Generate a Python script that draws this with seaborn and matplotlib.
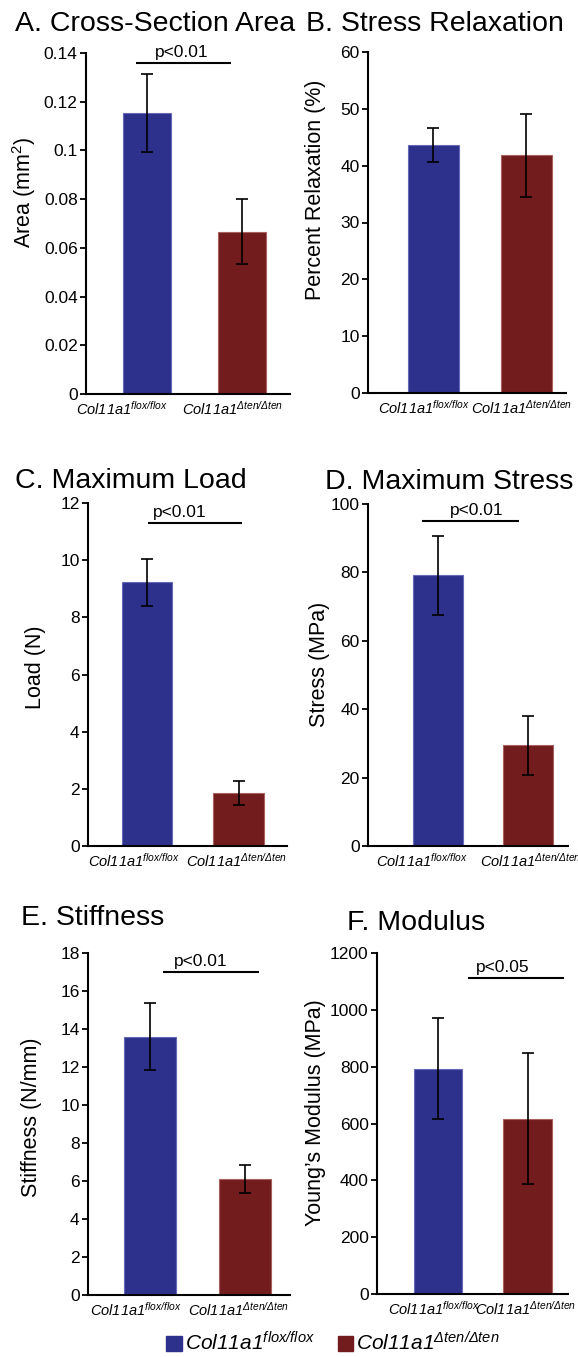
import numpy as np
import pandas as pd
import matplotlib
matplotlib.use("Agg")
import matplotlib.pyplot as plt
import matplotlib.transforms as mtransforms
from matplotlib.patches import Patch
import seaborn as sns

# ---------------- data ----------------
genotypes = ["flox/flox", "Δten/Δten"]
tick_labels = [r"$\mathit{Col11a1}^{\mathit{flox/flox}}$",
               r"$\mathit{Col11a1}^{\mathit{Δten/Δten}}$"]

area_mean = [0.1153, 0.0667]
area_sem = [0.0161, 0.0133]
relax_mean = [43.7, 41.8]
relax_sem = [3.0, 7.35]
load_mean = [9.22, 1.85]
load_sem = [0.82, 0.41]
stress_mean = [79.1, 29.4]
stress_sem = [11.6, 8.5]
stiff_mean = [13.6, 6.12]
stiff_sem = [1.77, 0.73]
modulus_mean = [793, 617]
modulus_sem = [178, 231]

panel_titles = ["A. Cross-Section Area", "B. Stress Relaxation", "C. Maximum Load",
                "D. Maximum Stress", "E. Stiffness", "F. Modulus"]
y_labels = [r"Area (mm$^{\mathsf{2}}$)", "Percent Relaxation (%)", "Load (N)",
            "Stress (MPa)", "Stiffness (N/mm)", "Young’s Modulus (MPa)"]
y_ticks = [[0, 0.02, 0.04, 0.06, 0.08, 0.1, 0.12, 0.14],
           [0, 10, 20, 30, 40, 50, 60],
           [0, 2, 4, 6, 8, 10, 12],
           [0, 20, 40, 60, 80, 100],
           [0, 2, 4, 6, 8, 10, 12, 14, 16, 18],
           [0, 200, 400, 600, 800, 1000, 1200]]
y_ticklabels = [["0", "0.02", "0.04", "0.06", "0.08", "0.1", "0.12", "0.14"],
                ["0", "10", "20", "30", "40", "50", "60"],
                ["0", "2", "4", "6", "8", "10", "12"],
                ["0", "20", "40", "60", "80", "100"],
                ["0", "2", "4", "6", "8", "10", "12", "14", "16", "18"],
                ["0", "200", "400", "600", "800", "1000", "1200"]]
sig_text = ["p<0.01", None, "p<0.01", "p<0.01", "p<0.01", "p<0.05"]
sig_span = [(-0.12, 0.88), None, (0.01, 1.04), (-0.18, 0.90), (0.14, 1.14), (0.33, 1.41)]
sig_level = [0.1357, None, 11.3, 94.9, 17.0, 1112]
sig_text_x = [0.37, None, 0.36, 0.43, 0.53, 0.72]

means = [area_mean, relax_mean, load_mean, stress_mean, stiff_mean, modulus_mean]
sems = [area_sem, relax_sem, load_sem, stress_sem, stiff_sem, modulus_sem]

# ---------------- style ----------------
W, H = 578, 1357
blue = "#2e318c"
red = "#721c1d"
blue_edge = "#6669b8"
red_edge = "#a86060"

sns.set_theme(style="ticks")
plt.rcParams["font.family"] = ["Liberation Sans", "DejaVu Sans"]
plt.rcParams["mathtext.fontset"] = "custom"
plt.rcParams["mathtext.it"] = "Liberation Sans:italic"
plt.rcParams["mathtext.rm"] = "Liberation Sans:italic"
plt.rcParams["mathtext.sf"] = "Liberation Sans"
plt.rcParams["mathtext.bf"] = "Liberation Sans:bold"
plt.rcParams["axes.unicode_minus"] = False
for key in ["text.color", "axes.labelcolor", "xtick.color", "ytick.color", "axes.edgecolor"]:
    plt.rcParams[key] = "black"

# axes boxes in pixels: left, right, top, bottom
boxes = [(86, 290, 53, 394), (368, 566, 52, 393),
         (88, 287, 503, 846), (368, 568, 504, 846),
         (88, 290, 953, 1295), (377, 568, 953, 1294)]
xlims = [(-0.642, 1.505), (-0.704, 1.425), (-0.645, 1.53),
         (-0.78, 1.44), (-0.65, 1.47), (-0.68, 1.45)]
bar_w = [0.505, 0.55, 0.55, 0.555, 0.547, 0.54]
label_dx = [(-25, -9), (-10, -5), (-13, -2), (-16, 2), (-14, -7), (-4, -2)]
ylab_center_x = [24, 315, 36, 319, 32, 315]
ylab_y = [0.592, 0.595, 0.522, 0.532, 0.52, 0.531]
title_pos = [(15, 31), (306, 31), (15, 488), (325, 489), (21, 925), (347, 930)]

fig = plt.figure(figsize=(W / 100, H / 100), dpi=100)

for i in range(6):
    L, R, T, B = boxes[i]
    ax = fig.add_axes([L / W, 1 - B / H, (R - L) / W, (B - T) / H])
    df = pd.DataFrame({"genotype": genotypes, "value": means[i]})
    sns.barplot(data=df, x="genotype", y="value", hue="genotype",
                palette=[blue, red], saturation=1, width=bar_w[i],
                errorbar=None, legend=False, ax=ax)
    for p, ec in zip(ax.patches, [blue_edge, red_edge]):
        p.set_edgecolor(ec)
        p.set_linewidth(0.8)
    ax.errorbar(np.arange(len(means[i])), means[i], yerr=sems[i], fmt="none",
                ecolor="black", elinewidth=1.2, capsize=4, capthick=1.2, zorder=5)

    ax.set_xlim(*xlims[i])
    ax.set_ylim(0, y_ticks[i][-1])
    ax.set_yticks(y_ticks[i])
    ax.set_yticklabels(y_ticklabels[i], fontsize=12.5)
    ax.set_xticks([0, 1])
    ax.set_xticklabels(tick_labels, fontsize=10.5)
    ax.set_xlabel("")
    ax.set_ylabel(y_labels[i], fontsize=15.5, va="center")
    ax.yaxis.set_label_coords((ylab_center_x[i] - L) / (R - L), ylab_y[i])
    ax.tick_params(axis="x", length=0, pad=4)
    ax.tick_params(axis="y", length=4.5, width=1.3, pad=1.5, color="black")
    for s in ["top", "right"]:
        ax.spines[s].set_visible(False)
    for s in ["left", "bottom"]:
        ax.spines[s].set_linewidth(1.5)
        ax.spines[s].set_color("black")
    ax.set_facecolor("white")

    for lbl, dx in zip(ax.get_xticklabels(), label_dx[i]):
        lbl.set_transform(lbl.get_transform() +
                          mtransforms.ScaledTranslation(dx / 100, 0, fig.dpi_scale_trans))

    if sig_text[i] is not None:
        x0, x1 = sig_span[i]
        ax.plot([x0, x1], [sig_level[i], sig_level[i]], color="black", lw=1.5,
                clip_on=False, solid_capstyle="butt")
        tr = mtransforms.offset_copy(ax.transData, fig=fig, x=0, y=2.5, units="points")
        ax.text(sig_text_x[i], sig_level[i], sig_text[i], ha="center", va="bottom",
                fontsize=12.5, transform=tr)

    tx, ty = title_pos[i]
    fig.text(tx / W, 1 - ty / H, panel_titles[i], fontsize=20.5, ha="left", va="baseline")

handles = [Patch(facecolor=blue, edgecolor=blue, label=tick_labels[0]),
           Patch(facecolor=red, edgecolor=red, label=tick_labels[1])]
fig.legend(handles=handles, loc="center", bbox_to_anchor=(333 / W, 1 - 1343 / H),
           ncol=2, frameon=False, fontsize=15, handlelength=0.75, handleheight=0.75,
           handletextpad=0.15, columnspacing=1.1, borderaxespad=0, borderpad=0)

fig.savefig("out.png", dpi=100, facecolor="white")
